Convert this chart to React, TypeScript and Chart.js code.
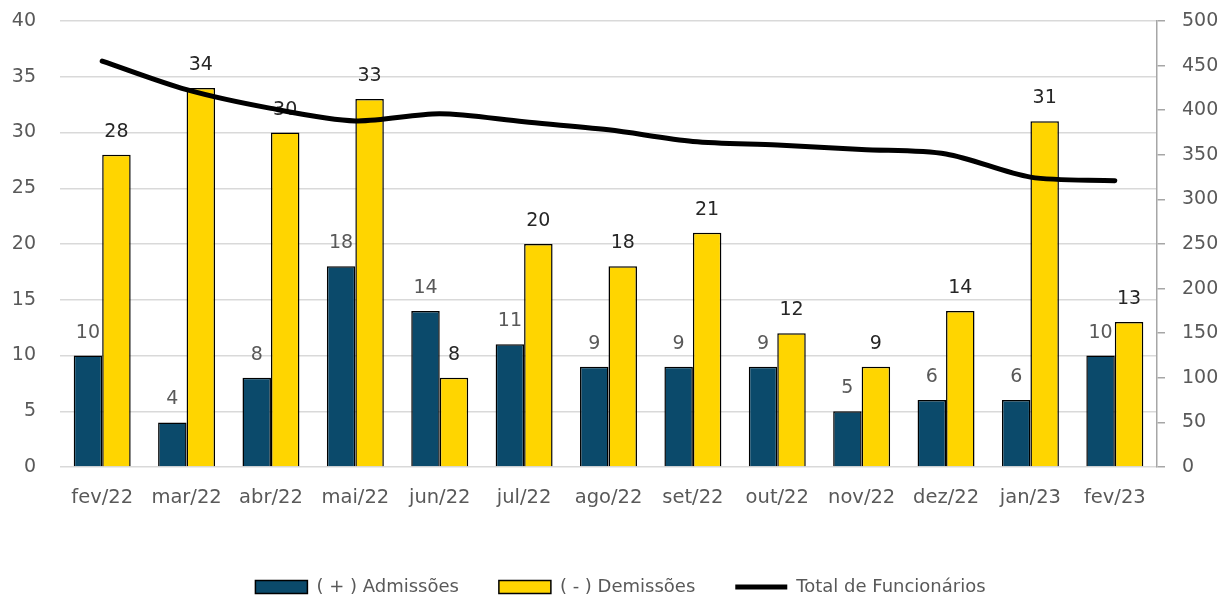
import React, { useEffect, useRef } from "react";
import { Chart, registerables } from "chart.js";

Chart.register(...registerables);

const categories = ["fev/22", "mar/22", "abr/22", "mai/22", "jun/22", "jul/22", "ago/22", "set/22", "out/22", "nov/22", "dez/22", "jan/23", "fev/23"];
const admissoes = [10, 4, 8, 18, 14, 11, 9, 9, 9, 5, 6, 6, 10];
const demissoes = [28, 34, 30, 33, 8, 20, 18, 21, 12, 9, 14, 31, 13];
const totalFuncionarios = [455, 423, 402, 388, 396, 387, 378, 365, 361, 356, 351, 325, 321];

const FONT = "'DejaVu Sans', sans-serif";
const GREY = "#595959";

const labelPlugin = {
  id: "barLabels",
  beforeDatasetDraw(chart: any, args: any) {
    if (args.index !== 2) return;
    const ctx = chart.ctx;
    ctx.save();
    ctx.font = `19px ${FONT}`;
    ctx.textAlign = "center";
    ctx.textBaseline = "alphabetic";
    [0, 1].forEach((di) => {
      const meta = chart.getDatasetMeta(di);
      const data = chart.data.datasets[di].data as number[];
      ctx.fillStyle = di === 0 ? GREY : "#262626";
      meta.data.forEach((el: any, i: number) => {
        ctx.fillText(String(data[i]), el.x, el.y - 18);
      });
    });
    ctx.restore();
  },
};

export default function App() {
  const ref = useRef<HTMLCanvasElement>(null);
  useEffect(() => {
    if (!ref.current) return;
    const chart = new Chart(ref.current, {
      type: "bar",
      data: {
        labels: categories,
        datasets: [
          {
            type: "bar",
            label: "( + ) Admissões",
            data: admissoes,
            backgroundColor: "#0B4A6B",
            borderColor: "#000000",
            borderWidth: 1.5,
            yAxisID: "y",
            categoryPercentage: 0.675,
            barPercentage: 1,
            pointStyle: "rect",
            order: 0,
          } as any,
          {
            type: "bar",
            label: "( - ) Demissões",
            data: demissoes,
            backgroundColor: "#FFD500",
            borderColor: "#000000",
            borderWidth: 1.5,
            yAxisID: "y",
            categoryPercentage: 0.675,
            barPercentage: 1,
            pointStyle: "rect",
            order: 0,
          } as any,
          {
            type: "line",
            label: "Total de Funcionários",
            data: totalFuncionarios,
            borderColor: "#000000",
            backgroundColor: "#000000",
            borderWidth: 5,
            pointRadius: 0,
            pointHoverRadius: 0,
            tension: 0.3,
            borderCapStyle: "round",
            yAxisID: "y1",
            pointStyle: "line",
            order: -1,
          } as any,
        ],
      },
      options: {
        responsive: false,
        animation: false,
        layout: { autoPadding: false, padding: { left: 12, right: 0, top: 21, bottom: -10 } },
        plugins: {
          tooltip: { enabled: false },
          legend: {
            position: "bottom",
            labels: {
              usePointStyle: true,
              pointStyleWidth: 52,
              boxHeight: 13,
              padding: 40,
              color: GREY,
              font: { family: FONT, size: 18 },
              sort: (a: any, b: any) => a.datasetIndex - b.datasetIndex,
            },
          },
        },
        scales: {
          x: {
            grid: { display: false, drawTicks: false },
            border: { display: false },
            ticks: { color: GREY, font: { family: FONT, size: 19.5 }, padding: 19 },
            afterFit: (s: any) => { s.height = 71; },
          },
          y: {
            position: "left",
            min: 0,
            max: 40,
            ticks: { stepSize: 5, color: GREY, font: { family: FONT, size: 19 }, padding: 0 },
            grid: { color: "#D9D9D9", lineWidth: 1.5, drawTicks: true, tickLength: 24, tickColor: "rgba(0,0,0,0)" },
            border: { display: false },
            afterFit: (s: any) => { s.width = 48; },
          },
          y1: {
            position: "right",
            min: 0,
            max: 500,
            ticks: { stepSize: 50, color: GREY, font: { family: FONT, size: 19, lineHeight: 0.4 }, padding: 17 },
            grid: { drawOnChartArea: false, drawTicks: true, tickLength: 8, color: "#A6A6A6", lineWidth: 1.5 },
            border: { display: true, color: "#A6A6A6", width: 1.5 },
            afterFit: (s: any) => { s.width = 72; },
          },
        },
      } as any,
      plugins: [labelPlugin],
    });
    return () => chart.destroy();
  }, []);
  return (
    <div style={{ position: "fixed", left: 0, top: 0, width: 1229, height: 596, background: "#fff" }}>
      <canvas ref={ref} width={1229} height={596} style={{ display: "block" }} />
    </div>
  );
}
